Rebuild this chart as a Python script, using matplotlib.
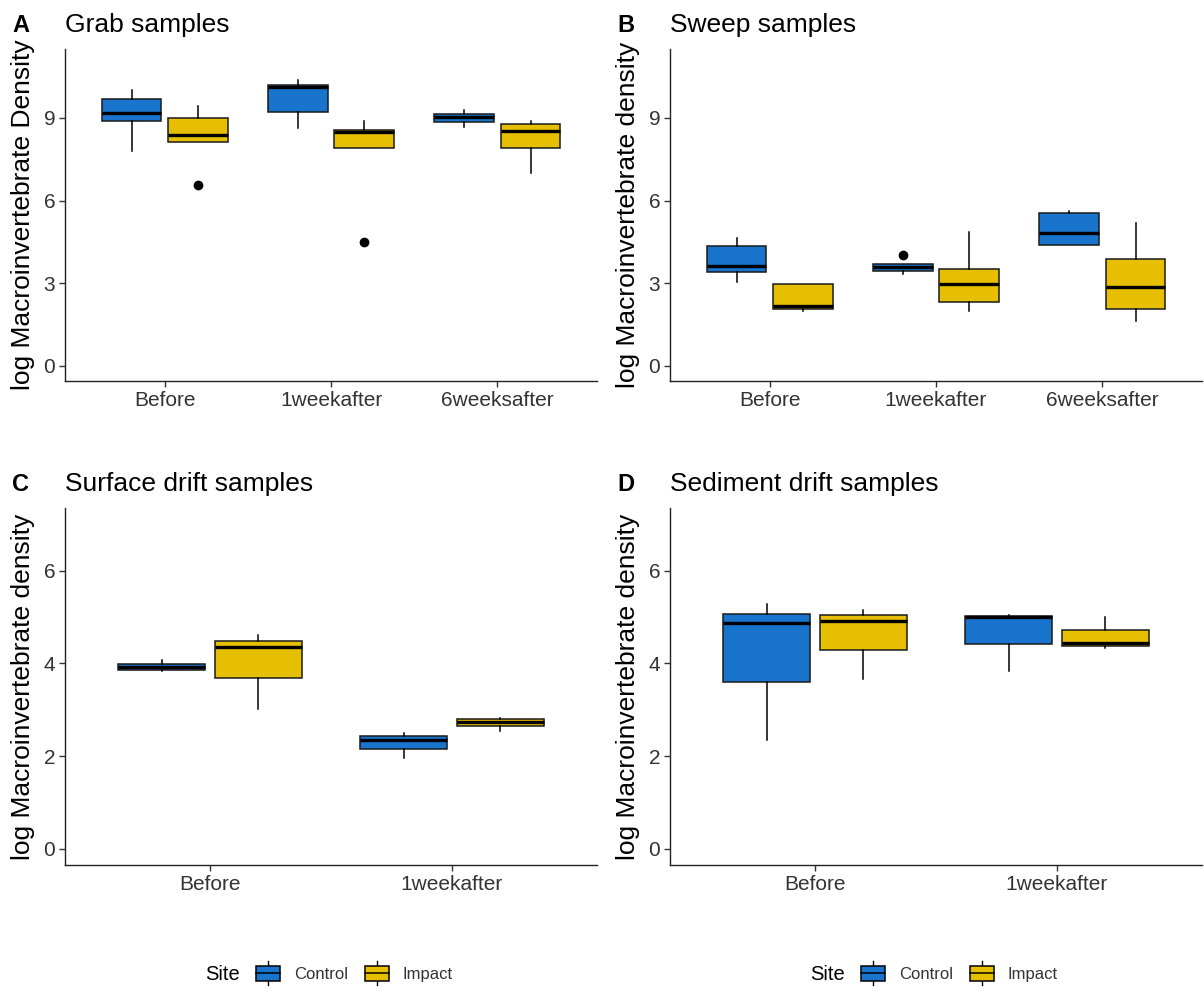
import matplotlib
matplotlib.use("Agg")
import matplotlib.pyplot as plt
from matplotlib.legend_handler import HandlerBase
from matplotlib.lines import Line2D
from matplotlib.patches import Patch, Rectangle

plt.rcParams['font.family'] = ['Liberation Sans', 'DejaVu Sans']

# five-number summaries per period: [lower whisker, q1, median, q3, upper whisker]
grab_periods = ['Before', '1weekafter', '6weeksafter']
grab_control = [[7.81, 8.90, 9.16, 9.69, 10.02],
                [8.62, 9.21, 10.11, 10.19, 10.38],
                [8.66, 8.85, 9.05, 9.14, 9.29]]
grab_impact = [[8.12, 8.12, 8.38, 9.01, 9.44],
               [7.89, 7.89, 8.48, 8.55, 8.90],
               [6.99, 7.89, 8.52, 8.77, 8.87]]
grab_control_out = [[], [], []]
grab_impact_out = [[6.56], [4.48], []]

sweep_periods = ['Before', '1weekafter', '6weeksafter']
sweep_control = [[3.05, 3.39, 3.61, 4.34, 4.65],
                 [3.32, 3.45, 3.60, 3.69, 3.69],
                 [4.38, 4.38, 4.81, 5.56, 5.62]]
sweep_impact = [[2.00, 2.08, 2.19, 2.96, 2.96],
                [2.00, 2.33, 2.98, 3.51, 4.87],
                [1.64, 2.08, 2.85, 3.86, 5.20]]
sweep_control_out = [[], [4.02], []]
sweep_impact_out = [[], [], []]

surface_periods = ['Before', '1weekafter']
surface_control = [[3.84, 3.85, 3.92, 3.99, 4.08],
                   [1.96, 2.15, 2.35, 2.43, 2.49]]
surface_impact = [[3.02, 3.69, 4.36, 4.49, 4.61],
                  [2.53, 2.64, 2.73, 2.80, 2.81]]

sediment_periods = ['Before', '1weekafter']
sediment_control = [[2.35, 3.60, 4.86, 5.07, 5.28],
                    [3.84, 4.42, 4.99, 5.01, 5.04]]
sediment_impact = [[3.66, 4.28, 4.92, 5.04, 5.14],
                   [4.33, 4.37, 4.44, 4.71, 4.99]]

sites = ['Control', 'Impact']
site_colors = ['#1874CD', '#E6C000']


def to_stats(summaries, outliers=None):
    stats = []
    for i, (lo, q1, med, q3, hi) in enumerate(summaries):
        stats.append(dict(whislo=lo, q1=q1, med=med, q3=q3, whishi=hi,
                          fliers=outliers[i] if outliers else []))
    return stats


def draw_panel(ax, letter, title, periods, control, impact, yticks, ylim,
               ylabel, control_out=None, impact_out=None):
    for k, (summ, outs) in enumerate([(control, control_out), (impact, impact_out)]):
        pos = [i + 1 + (k - 0.5) * 0.4 for i in range(len(periods))]
        ax.bxp(to_stats(summ, outs), positions=pos, widths=0.36,
               patch_artist=True, showcaps=False,
               boxprops=dict(facecolor=site_colors[k], edgecolor='#1a1a1a', linewidth=1.1),
               medianprops=dict(color='black', linewidth=2.4, solid_capstyle='butt'),
               whiskerprops=dict(color='black', linewidth=1.1),
               flierprops=dict(marker='o', markerfacecolor='black',
                               markeredgecolor='black', markersize=6))
    ax.set_xlim(0.4, len(periods) + 0.6)
    ax.set_xticks(range(1, len(periods) + 1))
    ax.set_xticklabels(periods)
    ax.set_ylim(*ylim)
    ax.set_yticks(yticks)
    ax.set_ylabel(ylabel, fontsize=19, labelpad=6)
    ax.set_title(title, loc='left', fontsize=19, pad=12)
    for side in ['top', 'right']:
        ax.spines[side].set_visible(False)
    for side in ['left', 'bottom']:
        ax.spines[side].set_linewidth(1.0)
        ax.spines[side].set_color('#222222')
    ax.tick_params(axis='both', length=4, width=1.0, color='#333333',
                   labelsize=15, labelcolor='#333333', pad=3)
    bb = ax.get_position()
    fig.text(bb.x0 - 53 / 1204, bb.y1 + 17 / 988, letter, fontsize=17,
             fontweight='bold', va='baseline', ha='left')


class BoxKey(HandlerBase):
    def create_artists(self, legend, orig_handle, xdescent, ydescent,
                       width, height, fontsize, trans):
        x0, y0 = -xdescent, -ydescent
        cx = x0 + width / 2
        ext = 0.3 * height
        rect = Rectangle((x0, y0), width, height, facecolor=orig_handle.get_facecolor(),
                         edgecolor='black', linewidth=1.1, transform=trans)
        mid = Line2D([x0, x0 + width], [y0 + height / 2] * 2, color='black',
                     linewidth=1.1, transform=trans)
        lo = Line2D([cx, cx], [y0 - ext, y0], color='black', linewidth=1.0, transform=trans)
        hi = Line2D([cx, cx], [y0 + height, y0 + height + ext], color='black',
                    linewidth=1.0, transform=trans)
        return [lo, hi, rect, mid]


def add_legend(x_title, x_keys, y):
    fig.text(x_title, y, 'Site', fontsize=14.5, va='center', ha='left')
    handles = [Patch(facecolor=c) for c in site_colors]
    fig.legend(handles, sites, loc='center left', bbox_to_anchor=(x_keys, y),
               frameon=False, fontsize=12, borderpad=0, borderaxespad=0,
               handlelength=1.44, handleheight=1.0, handletextpad=0.84,
               columnspacing=1.0, ncol=2, handler_map={Patch: BoxKey()},
               labelcolor='#333333')


fig = plt.figure(figsize=(12.04, 9.88), dpi=100)
W, H = 1204, 988
ax_a = fig.add_axes([65 / W, 1 - 381 / H, 532 / W, 332 / H])
ax_b = fig.add_axes([670 / W, 1 - 381 / H, 532 / W, 332 / H])
ax_c = fig.add_axes([65 / W, 1 - 865 / H, 532 / W, 357 / H])
ax_d = fig.add_axes([670 / W, 1 - 865 / H, 532 / W, 357 / H])

draw_panel(ax_a, 'A', 'Grab samples', grab_periods, grab_control, grab_impact,
           [0, 3, 6, 9], (-0.55, 11.5), 'log Macroinvertebrate Density',
           grab_control_out, grab_impact_out)
draw_panel(ax_b, 'B', 'Sweep samples', sweep_periods, sweep_control, sweep_impact,
           [0, 3, 6, 9], (-0.55, 11.5), 'log Macroinvertebrate density',
           sweep_control_out, sweep_impact_out)
draw_panel(ax_c, 'C', 'Surface drift samples', surface_periods, surface_control,
           surface_impact, [0, 2, 4, 6], (-0.35, 7.35), 'log Macroinvertebrate density')
draw_panel(ax_d, 'D', 'Sediment drift samples', sediment_periods, sediment_control,
           sediment_impact, [0, 2, 4, 6], (-0.35, 7.35), 'log Macroinvertebrate density')

add_legend(205 / W, 256 / W, 1 - 974 / H)
add_legend(810 / W, 861 / W, 1 - 974 / H)

fig.savefig('out.png', dpi=100)
